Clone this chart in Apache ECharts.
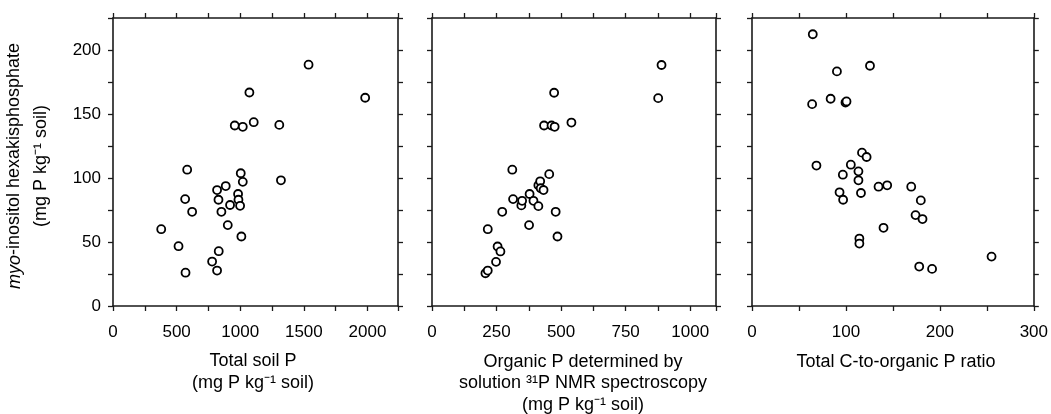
<!DOCTYPE html>
<html><head><meta charset="utf-8">
<script src="https://cdn.jsdelivr.net/npm/echarts@6/dist/echarts.min.js"></script>
<style>html,body{margin:0;padding:0;background:#fff}#c{width:1051px;height:414px}</style>
</head><body><div id="c"></div>
<script>
// Panel 1: total soil P vs myo-inositol hexakisphosphate
const totalSoilP = [379,515,570,567,583,622,779,818,831,818,829,852,886,902,920,983,986,999,1004,1020,1009,957,1020,1072,1106,1307,1320,1537,1982];
const ip6VsTotalP = [60,46.7,26,83.5,106.5,73.6,34.7,27.7,42.8,90.6,83,73.6,93.7,63.2,78.9,87.5,83,78.3,103.7,97,54.3,141,140,166.8,143.6,141.5,98.2,188.5,162.7];
// Panel 2: organic P (31P NMR)
const organicP = [207,216,216,248,254,265,272,311,314,346,349,378,376,393,412,412,419,421,432,454,434,463,475,473,479,486,540,876,889];
const ip6VsOrgP = [25.6,27.7,60,34.5,46.5,42.6,73.6,106.5,83.5,78.6,82.2,87.5,63.2,82.2,78,94.3,97.4,92,90.6,103,141,141,140,166.6,73.6,54.3,143.3,162.4,188.3];
// Panel 3: total C-to-organic P ratio
const cpRatio = [64.7,64,68.6,83.7,90.4,93.2,96.7,97,99.5,100.6,105.2,113.3,113.3,114.3,114.3,116,117.1,122,125.6,134.7,143.9,140,169.5,174.1,179.7,181.5,178,191.7,255];
const ip6VsCP = [212.3,157.7,109.7,161.9,183.3,88.8,102.6,83,159,159.8,110.4,105.2,98.2,52.7,48.8,88.3,119.8,116.4,187.7,93.2,94.3,61.1,93.2,71,82.5,67.9,30.8,29,38.6];

const xMax = [2240, 1100, 300];
const xMinorStep = [250, 125, 50];
const xLabelStep = [500, 250, 100];
const yMax = 225, yStep = 25, yLabelStep = 50;

const xs = [totalSoilP, organicP, cpRatio];
const ys = [ip6VsTotalP, ip6VsOrgP, ip6VsCP];

const FONT = 'Liberation Sans, Arial, sans-serif';
const AX = '#1a1a1a';
const TXT = '#000';
const lefts = [113, 432, 752];
const widths = [285, 284, 284];

const grid = lefts.map((l, i) => ({left: l, top: 18, width: widths[i], height: 288}));
const axLine = {show: true, onZero: false, lineStyle: {color: AX, width: 1.6}};
const tick = {show: true, inside: false, length: 5, lineStyle: {color: AX, width: 1.3}};

const xAxis = [], yAxis = [];
for (let i = 0; i < 3; i++) {
  xAxis.push({gridIndex: i, type: 'value', position: 'bottom', min: 0, max: xMax[i], interval: xMinorStep[i],
    axisLine: axLine, axisTick: tick, splitLine: {show: false},
    axisLabel: {show: true, margin: 18, color: TXT, fontFamily: FONT, fontSize: 17,
      formatter: v => (Math.abs(v % xLabelStep[i]) < 1e-6 ? String(v) : '')}});
}
for (let i = 0; i < 3; i++) {
  xAxis.push({gridIndex: i, type: 'value', position: 'top', min: 0, max: xMax[i], interval: xMinorStep[i],
    axisLine: axLine, axisTick: tick, splitLine: {show: false}, axisLabel: {show: false}});
}
for (let i = 0; i < 3; i++) {
  yAxis.push({gridIndex: i, type: 'value', position: 'left', min: 0, max: yMax, interval: yStep,
    axisLine: axLine, axisTick: tick, splitLine: {show: false},
    axisLabel: {show: i === 0, margin: 12, color: TXT, fontFamily: FONT, fontSize: 17,
      formatter: v => (v % yLabelStep === 0 ? String(v) : '')}});
}
for (let i = 0; i < 3; i++) {
  yAxis.push({gridIndex: i, type: 'value', position: 'right', min: 0, max: yMax, interval: yStep,
    axisLine: axLine, axisTick: tick, splitLine: {show: false}, axisLabel: {show: false}});
}

const series = xs.map((xv, i) => ({
  type: 'scatter', xAxisIndex: i, yAxisIndex: i, symbol: 'circle', symbolSize: 8,
  itemStyle: {color: '#fff', borderColor: '#000', borderWidth: 1.8, opacity: 1},
  data: xv.map((x, k) => [x, ys[i][k]])
}));

const tStyle = (txt, x, y) => ({type: 'text', x: x, y: y,
  style: {text: txt, fill: TXT, font: '18px ' + FONT, align: 'center', verticalAlign: 'middle'}});

const graphic = [
  {type: 'text', x: 28, y: 166, rotation: Math.PI / 2,
   style: {text: '{i|myo}-inositol hexakisphosphate\n(mg P kg⁻¹ soil)', fill: TXT,
     font: '18px ' + FONT, align: 'center', verticalAlign: 'middle', lineHeight: 27,
     rich: {i: {fontStyle: 'italic', fontSize: 18, fontFamily: FONT, fill: TXT}}}},
  tStyle('Total soil P', 253, 361),
  tStyle('(mg P kg⁻¹ soil)', 253, 383),
  tStyle('Organic P determined by', 583, 362),
  tStyle('solution ³¹P NMR spectroscopy', 583, 383),
  tStyle('(mg P kg⁻¹ soil)', 583, 405),
  tStyle('Total C-to-organic P ratio', 896, 362)
];

const chart = echarts.init(document.getElementById('c'), null, {renderer: 'canvas'});
chart.setOption({backgroundColor: '#fff', animation: false, grid, xAxis, yAxis, series, graphic});
</script></body></html>
